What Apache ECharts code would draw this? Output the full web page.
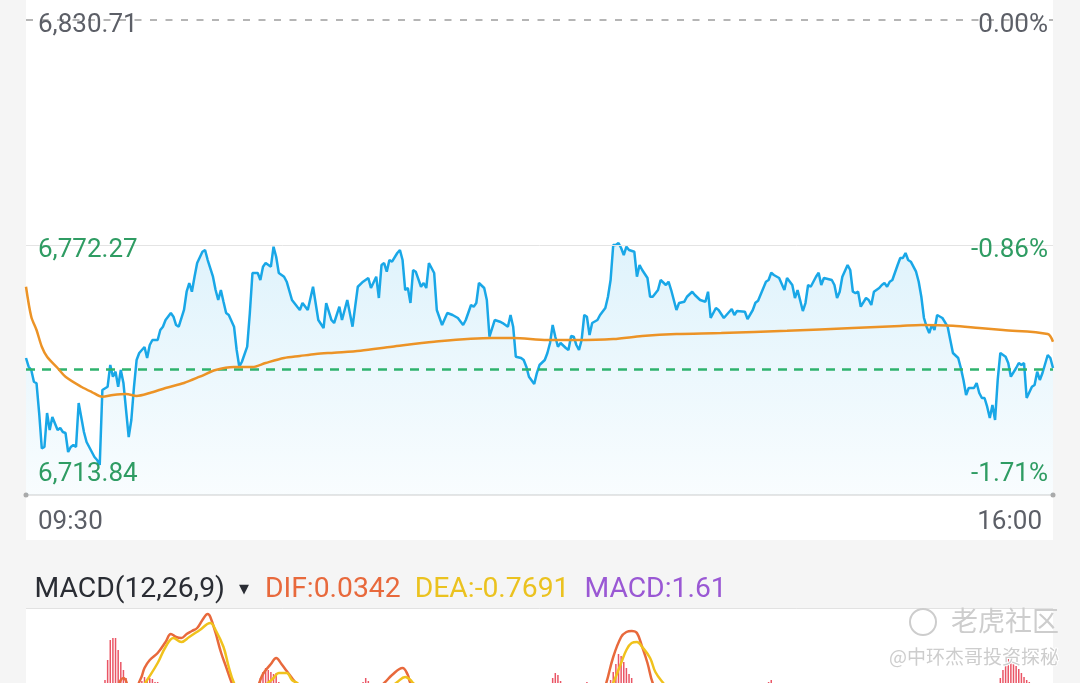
<!DOCTYPE html>
<html><head><meta charset="utf-8">
<script src="https://cdn.jsdelivr.net/npm/echarts@6/dist/echarts.min.js"></script>
<style>html,body{margin:0;padding:0;background:#f5f5f5;}#c{width:1080px;height:683px;}</style>
</head><body><div id="c"></div>
<script>
// ---------- data ----------
const priceTimes = [0,1,2,3,4,5,6,7,8,9,10,12,13,14,15,16,17,18,19,20,22,23,25,26,27,28,29,31,32,33,34,35,36,37,38,39,40,41,42,43,44,45,46,47,48,50,51,52,53,55,56,57,58,60,61,62,63,64,65,67,68,69,71,72,73,74,75,76,77,79,80,81,82,84,85,86,88,89,90,91,93,94,95,96,98,99,101,103,104,105,107,109,111,113,114,116,117,119,120,122,124,125,126,128,130,131,133,134,135,136,137,138,139,141,142,143,144,145,146,147,148,150,151,152,153,155,156,158,160,162,164,166,167,169,170,171,172,174,175,176,178,180,181,183,184,185,186,188,189,190,191,193,194,195,197,198,199,200,201,202,203,205,206,207,208,209,210,211,212,213,214,215,217,218,220,221,222,223,224,225,226,227,228,229,231,232,233,234,236,237,238,240,241,243,244,245,247,248,250,251,253,254,256,258,259,260,262,263,265,266,268,269,270,273,274,276,277,278,281,282,283,284,286,288,289,291,292,293,295,296,297,298,300,301,302,303,306,307,308,309,310,312,313,314,315,316,317,319,320,321,322,324,325,326,327,328,329,331,332,333,334,335,336,338,339,340,341,342,343,344,345,346,348,350,351,352,354,355,356,357,358,360,361,362,363,364,365,366,367,368,369,370,372,373,374,376,377,378,379,380,382,383,384,385,386,388,389,390];
const priceValues = [6745.86,6743.83,6743.05,6740.32,6739.95,6733.00,6724.75,6725.06,6733.00,6729.03,6732.07,6729.03,6729.50,6728.56,6728.33,6723.89,6725.06,6725.53,6725.06,6735.34,6728.56,6726.23,6723.89,6722.72,6722.02,6720.85,6738.38,6739.15,6744.22,6741.49,6742.66,6739.15,6743.05,6740.02,6733.70,6727.39,6731.37,6739.08,6745.39,6747.03,6747.73,6748.43,6745.86,6748.90,6750.07,6750.07,6752.40,6753.18,6754.74,6756.38,6755.51,6753.57,6753.18,6757.08,6761.35,6763.39,6761.35,6764.86,6768.06,6770.70,6771.10,6768.76,6764.86,6761.75,6759.41,6761.75,6759.02,6756.38,6755.91,6753.18,6747.73,6743.83,6744.99,6748.50,6756.38,6765.72,6765.72,6764.09,6767.20,6768.06,6767.20,6771.87,6769.53,6765.72,6764.86,6763.69,6759.41,6757.85,6757.08,6758.71,6757.08,6762.52,6754.74,6752.87,6758.71,6754.74,6754.04,6757.85,6754.74,6759.41,6753.18,6757.85,6762.52,6763.69,6764.56,6762.22,6764.86,6759.88,6767.59,6768.06,6766.03,6768.76,6768.37,6770.40,6771.10,6768.76,6761.75,6762.22,6758.71,6766.43,6766.03,6762.52,6763.39,6762.22,6768.06,6765.72,6757.08,6753.57,6756.38,6755.91,6755.21,6753.57,6754.74,6758.25,6757.85,6758.71,6763.39,6762.22,6759.41,6750.83,6754.74,6754.34,6754.04,6753.18,6755.91,6753.18,6746.16,6745.86,6745.39,6743.83,6741.49,6739.78,6742.35,6744.22,6745.39,6747.03,6749.36,6753.57,6750.83,6748.50,6749.36,6748.20,6747.73,6751.00,6750.83,6748.90,6747.73,6750.07,6755.91,6755.51,6751.23,6754.04,6754.74,6755.91,6757.54,6760.18,6764.09,6772.27,6772.27,6772.74,6771.57,6769.93,6771.87,6771.10,6770.70,6764.86,6767.59,6766.43,6764.56,6760.18,6760.18,6761.75,6764.09,6762.92,6763.69,6761.75,6757.08,6758.71,6759.02,6760.18,6761.35,6760.58,6759.41,6759.02,6761.35,6755.21,6757.54,6757.08,6755.21,6755.91,6757.31,6755.91,6756.84,6756.68,6754.97,6757.08,6758.78,6759.25,6763.69,6764.09,6765.79,6765.26,6764.56,6761.75,6764.56,6762.92,6759.88,6761.75,6756.84,6758.71,6762.92,6762.52,6764.86,6765.79,6762.92,6764.56,6764.09,6762.92,6759.88,6761.35,6764.86,6767.59,6766.43,6761.35,6761.05,6761.35,6757.85,6759.88,6759.41,6758.25,6761.35,6762.22,6762.92,6763.39,6762.52,6763.69,6764.09,6767.59,6769.23,6769.23,6770.40,6768.76,6768.37,6766.03,6763.69,6760.18,6755.21,6753.18,6751.70,6753.57,6752.40,6755.91,6755.21,6753.18,6750.07,6747.03,6745.86,6743.52,6740.72,6737.21,6738.85,6738.85,6740.02,6737.68,6736.51,6736.51,6734.48,6731.84,6734.87,6731.37,6740.72,6747.03,6746.16,6744.69,6741.49,6743.52,6744.69,6744.22,6744.69,6736.51,6739.15,6739.55,6742.66,6740.72,6742.35,6746.56,6745.86,6743.52];

const avgTimes = [0,2,4,6,8,12,15,21,25,29,33,38,42,47,53,60,66,72,79,86,91,98,104,110,117,127,139,155,177,185,198,209,223,234,247,264,289,314,332,340,352,362,371,388,390];
const avgValues = [6762.52,6755.51,6752.40,6748.50,6746.16,6743.52,6741.49,6739.15,6737.91,6736.81,6737.21,6737.44,6736.98,6737.68,6738.85,6740.02,6741.49,6743.05,6743.75,6743.75,6744.69,6745.86,6746.33,6746.79,6747.10,6747.56,6748.50,6749.67,6750.53,6750.53,6750.07,6750.07,6750.30,6751.00,6751.47,6751.70,6752.24,6752.87,6753.34,6753.57,6753.41,6752.87,6752.40,6751.47,6749.67];

const openLevel = 6743.29;
const priceRange = [6713.84, 6824.86];          // value range of the price panel
const levelValues = [6824.86, 6772.27, 6713.84]; // reference lines (top, middle, bottom)
const priceTickLabels = ['6,830.71', '6,772.27', '6,713.84'];
const pctTickLabels = ['0.00%', '-0.86%', '-1.71%'];
const timeTickLabels = ['09:30', '16:00'];
const sessionMinutes = [0, 390];

const difTimes = [28,34,36,37,38,39,41,43,44,45,47,50,53,55,57,59,61,63,65,67,69,70,72,74,76,78,80,84,88,90,93,95,97,99,101,103,106,115,125,133,136,139,143,145,146,150,170,190,205,214,218,220,223,226,228,230,232,234,236,238,241,260,290,330,355,370,390];
const difValues = [0.2,1.0,2.0,2.2,1.9,1.0,0.6,1.8,2.4,3.2,4.0,4.7,5.8,6.6,6.3,6.2,6.6,6.9,7.2,8.0,8.6,8.3,6.7,4.8,3.3,1.8,0.5,0.0,1.4,2.6,3.6,4.2,3.6,2.9,2.2,1.5,0.5,0.2,0.6,1.2,1.7,2.5,3.2,2.5,1.7,0.6,0.3,-1.2,-0.8,-0.2,0.3,1.4,4.3,6.3,6.8,6.9,6.7,5.3,3.7,1.7,0.2,-0.6,-0.4,-0.3,-1.2,-0.8,0.03];
const deaTimes = [28,36,40,43,44,46,50,53,56,59,62,66,70,72,75,77,79,82,88,91,94,96,99,101,103,106,115,130,137,141,144,146,147,150,170,195,215,220,223,226,228,230,232,234,237,239,242,246,260,300,340,360,375,390];
const deaValues = [0.0,0.8,0.9,0.8,1.2,2.0,3.7,5.3,6.2,5.8,6.3,7.0,7.7,7.0,5.3,3.3,1.7,0.6,0.7,1.5,2.2,2.7,2.7,2.0,1.7,1.0,0.5,0.6,1.0,1.8,2.3,2.0,1.7,1.0,0.4,-0.8,-0.6,-0.1,1.7,3.7,5.0,5.7,5.8,5.3,4.2,2.8,1.7,0.5,-0.3,-0.5,-0.4,-0.9,-1.0,-0.77];
const barTimes = [30,31,32,33,34,35,36,37,38,44,45,46,47,48,49,50,51,88,89,90,91,92,93,94,95,96,128,129,130,200,201,202,203,213,222,223,224,225,226,227,228,229,230,282,283,370,371,372,373,374,375,376,377,378,379,380,381,390];
const barValues = [2.0,4.0,6.0,6.2,6.2,5.0,3.8,3.0,2.2,1.9,2.3,2.0,2.2,2.1,1.8,1.8,1.7,1.6,2.2,2.8,3.2,3.0,2.8,2.6,2.7,1.8,1.8,2.2,1.9,2.2,2.7,2.5,1.9,1.8,2.0,2.8,3.6,4.6,4.4,3.8,3.2,2.6,2.2,1.8,2.0,2.2,3.0,3.6,4.1,4.3,3.8,3.4,3.1,2.7,2.3,2.0,1.8,1.61];
const macdRange = [-3.2, 8.8];
const macdName = 'MACD(12,26,9)';
const difLast = '0.0342', deaLast = '-0.7691', macdLast = '1.61';

// ---------- chart ----------
const zip = (a, b) => a.map((t, i) => [t, b[i]]);
const FF = 'Roboto, "Noto Sans", sans-serif';
const GRAY = '#5c5f67', GREEN = '#2f9c63';
const HIDDEN = {color: 'rgba(0,0,0,0)', width: 0.01, type: 'solid'};
const chart = echarts.init(document.getElementById('c'));

const leftLabel = (txt, color, dy) => ({show: true, position: 'insideStartTop', formatter: txt, color: color,
  fontSize: 26, fontFamily: FF, distance: [12, dy]});
const rightLabel = (txt, color, dy) => ({show: true, position: 'insideEndTop', formatter: txt, color: color,
  fontSize: 26, fontFamily: FF, distance: [5, dy]});
const TS = 28.3;

chart.setOption({
  backgroundColor: '#f5f5f5',
  animation: false,
  title: {
    left: 29.5, top: 571,
    text: `{n|${macdName}}{t|▼}{a|DIF:${difLast}}{b|DEA:${deaLast}}{c|MACD:${macdLast}}`,
    textStyle: {
      fontWeight: 'normal',
      rich: {
        n: {fontSize: TS, fontFamily: FF, fontWeight: 'normal', color: '#2a2d34'},
        t: {fontSize: 13, fontFamily: 'DejaVu Sans', fontWeight: 'normal', color: '#2a2d34', padding: [0, 16, 0, 14]},
        a: {fontSize: TS, fontFamily: FF, fontWeight: 'normal', color: '#e8693c'},
        b: {fontSize: TS, fontFamily: FF, fontWeight: 'normal', color: '#ebc21f', padding: [0, 0, 0, 14]},
        c: {fontSize: TS, fontFamily: FF, fontWeight: 'normal', color: '#9a58d4', padding: [0, 0, 0, 15]}
      }
    }
  },
  graphic: {elements: [
    {type: 'rect', z: -10, silent: true, shape: {x: 26, y: 0, width: 1027, height: 540}, style: {fill: '#ffffff'}},
    {type: 'rect', z: -10, silent: true, shape: {x: 26, y: 609, width: 1027, height: 74}, style: {fill: '#ffffff'}},
    {type: 'line', z: -9, silent: true, shape: {x1: 26, y1: 608.5, x2: 1053, y2: 608.5}, style: {stroke: '#e2e2e2', lineWidth: 1}},
    {type: 'circle', z: 100, silent: true, shape: {cx: 923, cy: 622, r: 13}, style: {fill: 'none', stroke: '#cdcdcd', lineWidth: 2}},
    {type: 'text', z: 100, silent: true, x: 951, y: 621, style: {text: '老虎社区', fill: '#cdcdcd', font: '27px "Noto Sans CJK SC"', verticalAlign: 'middle'}},
    {type: 'text', z: 100, silent: true, x: 889, y: 657, style: {text: '@中环杰哥投资探秘', fill: '#cdcdcd', stroke: '#ffffff', lineWidth: 2, font: '19px "Noto Sans CJK SC"', verticalAlign: 'middle'}}
  ]},
  grid: [
    {left: 26, right: 27, top: 20, height: 475, outerBoundsMode: 'none'},
    {left: 26, right: 27, top: 612, height: 120, outerBoundsMode: 'none'}
  ],
  xAxis: [
    {gridIndex: 0, type: 'value', min: sessionMinutes[0], max: sessionMinutes[1], interval: sessionMinutes[1],
     axisLine: {show: true, lineStyle: {color: '#e6e6e6', width: 2}}, axisTick: {show: false}, splitLine: {show: false},
     axisLabel: {formatter: v => v === sessionMinutes[0] ? timeTickLabels[0] : '', align: 'left', padding: [0, 0, 0, 12],
       margin: 14, color: GRAY, fontSize: 26, fontFamily: FF}},
    {gridIndex: 0, type: 'value', position: 'bottom', min: sessionMinutes[0], max: sessionMinutes[1], interval: sessionMinutes[1],
     axisLine: {show: true, lineStyle: {color: '#aaaaaa', width: 0.01}, symbol: ['circle', 'circle'], symbolSize: [5, 5]},
     axisTick: {show: false}, splitLine: {show: false},
     axisLabel: {formatter: v => v === sessionMinutes[1] ? timeTickLabels[1] : '', align: 'right', padding: [0, 11, 0, 0],
       margin: 14, color: GRAY, fontSize: 26, fontFamily: FF}},
    {gridIndex: 1, type: 'value', min: sessionMinutes[0], max: sessionMinutes[1], show: false}
  ],
  yAxis: [
    {gridIndex: 0, type: 'value', min: priceRange[0], max: priceRange[1], show: false, splitLine: {show: false}},
    {gridIndex: 1, type: 'value', min: macdRange[0], max: macdRange[1], show: false, splitLine: {show: false}}
  ],
  series: [
    {
      name: 'price', type: 'line', xAxisIndex: 0, yAxisIndex: 0, z: 4,
      data: zip(priceTimes, priceValues), showSymbol: false,
      lineStyle: {color: '#19a7e7', width: 2.5},
      areaStyle: {color: new echarts.graphic.LinearGradient(0, 0, 0, 1, [
        {offset: 0, color: 'rgba(25,167,231,0.2)'}, {offset: 1, color: 'rgba(25,167,231,0.04)'}])},
      markLine: {
        symbol: 'none', silent: true,
        data: [
          {yAxis: levelValues[0], lineStyle: {color: '#b5b5b5', width: 2, type: [7, 8.5]}, label: leftLabel(priceTickLabels[0], GRAY, -18.5)},
          {yAxis: levelValues[1], lineStyle: {color: '#e4e4e4', width: 1, type: 'solid'}, label: leftLabel(priceTickLabels[1], GREEN, -18)},
          {yAxis: levelValues[2], lineStyle: HIDDEN, label: leftLabel(priceTickLabels[2], GREEN, 8)},
          {yAxis: openLevel, lineStyle: {color: '#2fb36d', width: 2.5, type: [9, 7]}, label: {show: false}}
        ]
      }
    },
    {
      name: 'avg', type: 'line', xAxisIndex: 0, yAxisIndex: 0, z: 5, smooth: 0.3,
      data: zip(avgTimes, avgValues), showSymbol: false,
      lineStyle: {color: '#ec9326', width: 2.5},
      markLine: {
        symbol: 'none', silent: true,
        data: [
          {yAxis: levelValues[0], lineStyle: HIDDEN, label: rightLabel(pctTickLabels[0], GRAY, -18.5)},
          {yAxis: levelValues[1], lineStyle: HIDDEN, label: rightLabel(pctTickLabels[1], GREEN, -18)},
          {yAxis: levelValues[2], lineStyle: HIDDEN, label: rightLabel(pctTickLabels[2], GREEN, 8)}
        ]
      }
    },
    {
      name: 'MACD', type: 'bar', xAxisIndex: 2, yAxisIndex: 1, barWidth: 1.5,
      data: zip(barTimes, barValues), itemStyle: {color: '#ea5565'}
    },
    {
      name: 'DIF', type: 'line', xAxisIndex: 2, yAxisIndex: 1, smooth: 0.4, showSymbol: false,
      data: zip(difTimes, difValues), lineStyle: {color: '#e8693c', width: 2.5}
    },
    {
      name: 'DEA', type: 'line', xAxisIndex: 2, yAxisIndex: 1, smooth: 0.4, showSymbol: false,
      data: zip(deaTimes, deaValues), lineStyle: {color: '#f0c21c', width: 2.5}
    }
  ]
});
</script></body></html>
